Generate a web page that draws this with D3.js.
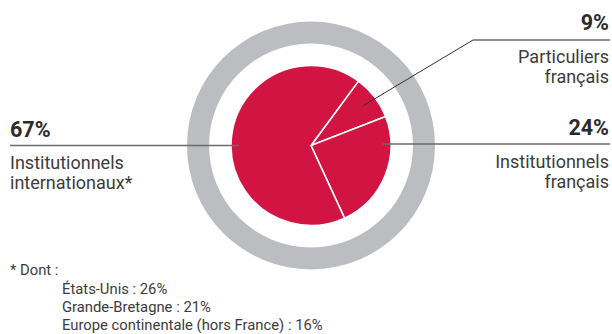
<!DOCTYPE html>
<html>
<head>
<meta charset="utf-8">
<script src="https://cdn.jsdelivr.net/npm/d3@7"></script>
<style>
  html, body { margin: 0; padding: 0; background: #fff; }
  svg { display: block; }
  text { font-family: Roboto, "Open Sans", sans-serif; }
</style>
</head>
<body>
<svg id="chart" width="612" height="334"></svg>
<script>
// Shareholding breakdown
const categories = ["Particuliers français", "Institutionnels français", "Institutionnels internationaux*"];
const shares = [9, 24, 67];
const labelLines = [["Particuliers", "français"], ["Institutionnels", "français"], ["Institutionnels", "internationaux*"]];
const footnoteTitle = "* Dont :";
const footnoteItems = ["États-Unis : 26%", "Grande-Bretagne : 21%", "Europe continentale (hors France) : 16%"];

const svg = d3.select("#chart");
const cx = 311, cy = 145.5;
const red = "#D21443", ringGrey = "#BCBDC0";

// Outer decorative ring
svg.append("path")
  .attr("transform", `translate(${cx},${cy})`)
  .attr("d", d3.arc()({ innerRadius: 102, outerRadius: 124, startAngle: 0, endAngle: 2 * Math.PI }))
  .attr("fill", ringGrey);

// Pie slices
const start = 36.4 * Math.PI / 180;
const pie = d3.pie().sort(null).value(d => d).startAngle(start).endAngle(start + 2 * Math.PI);
const arcs = pie(shares);
const arc = d3.arc().innerRadius(0).outerRadius(80);

const g = svg.append("g").attr("transform", `translate(${cx},${cy})`);
g.selectAll("path.slice").data(arcs).join("path")
  .attr("class", "slice")
  .attr("d", arc)
  .attr("fill", red)
  .attr("stroke", "#fff")
  .attr("stroke-width", 1.6)
  .attr("stroke-linejoin", "round");

// Leader lines and labels
const lineColor = "#6b6b6b";
const pctColor = "#2b2b2b";
const txtColor = "#3c3c3c";

function pointAt(d, r) {
  const a = (d.startAngle + d.endAngle) / 2;
  return [cx + r * Math.sin(a), cy - r * Math.cos(a)];
}

// 9% : diagonal then horizontal to the right edge
{
  const p0 = pointAt(arcs[0], 65);
  svg.append("path")
    .attr("d", `M${p0[0]},${p0[1]} L473,40`)
    .attr("stroke", "#333").attr("stroke-width", 1).attr("fill", "none");
  svg.append("path")
    .attr("d", `M473,40 H610`)
    .attr("stroke", lineColor).attr("stroke-width", 1.3).attr("fill", "none");
}
// 24% : horizontal to the right edge
svg.append("path")
  .attr("d", `M${cx + 72},144 H610`)
  .attr("stroke", lineColor).attr("stroke-width", 1.3).attr("fill", "none");
// 67% : horizontal to the left edge
svg.append("path")
  .attr("d", `M10,145.5 H${cx - 72}`)
  .attr("stroke", lineColor).attr("stroke-width", 1.3).attr("fill", "none");

const labelPos = [
  { x: 609, anchor: "end", pctY: 30, y: 63 },
  { x: 609, anchor: "end", pctY: 135, y: 168 },
  { x: 10, anchor: "start", pctY: 137, y: 169 }
];

arcs.forEach((d, i) => {
  const p = labelPos[i];
  svg.append("text")
    .attr("x", p.x).attr("y", p.pctY)
    .attr("text-anchor", p.anchor)
    .attr("font-size", 21.5).attr("font-weight", 700)
    .attr("fill", pctColor)
    .text(d.data + "%");
  labelLines[i].forEach((ln, j) => {
    svg.append("text")
      .attr("x", p.x).attr("y", p.y + j * 20)
      .attr("text-anchor", p.anchor)
      .attr("font-size", 18)
      .attr("fill", txtColor)
      .text(ln);
  });
});

// Footnote
svg.append("text")
  .attr("x", 10).attr("y", 275)
  .attr("font-size", 14.8).attr("fill", txtColor)
  .text(footnoteTitle);
footnoteItems.forEach((t, i) => {
  svg.append("text")
    .attr("x", 62).attr("y", 294 + i * 18)
    .attr("font-size", 14.8).attr("fill", txtColor)
    .text(t);
});
</script>
</body>
</html>
